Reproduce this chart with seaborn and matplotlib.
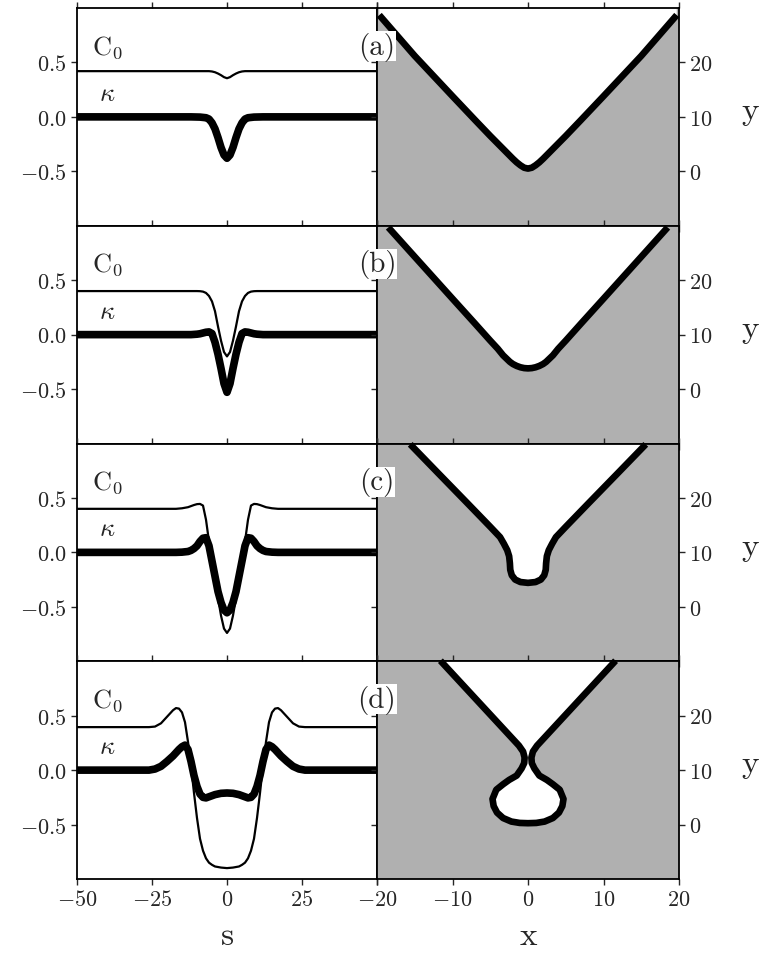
import numpy as np
import pandas as pd
import matplotlib
matplotlib.use("Agg")
import matplotlib.pyplot as plt
import seaborn as sns

sns.set_style("ticks")
plt.rcParams.update({
    "font.family": "serif",
    "font.serif": ["cmr10", "DejaVu Serif"],
    "mathtext.fontset": "cm",
    "axes.formatter.use_mathtext": True,
    "axes.unicode_minus": False,
})

# ---------------- data ----------------
panel_labels = ["(a)", "(b)", "(c)", "(d)"]

# left column: C0(s) and kappa(s)
s_a = [-50, -12, -9, -7, -6, -5, -4, -3, -2, -1, 0, 1, 2, 3, 4, 5, 6, 7, 9, 12, 50]
c0_a = [0.42, 0.42, 0.42, 0.42, 0.42, 0.417, 0.41, 0.398, 0.383, 0.365, 0.355,
        0.365, 0.383, 0.398, 0.41, 0.417, 0.42, 0.42, 0.42, 0.42, 0.42]
k_a = [0, 0, -0.002, -0.008, -0.02, -0.055, -0.11, -0.19, -0.28, -0.35, -0.38,
       -0.35, -0.28, -0.19, -0.11, -0.055, -0.02, -0.008, -0.002, 0, 0]

s_b = [-50, -12, -10, -9, -8, -7, -6, -5, -4, -3, -2, -1, 0,
       1, 2, 3, 4, 5, 6, 7, 8, 9, 10, 12, 50]
c0_b = [0.40, 0.40, 0.40, 0.399, 0.395, 0.383, 0.355, 0.305, 0.215, 0.075, -0.055, -0.16, -0.20,
        -0.16, -0.055, 0.075, 0.215, 0.305, 0.355, 0.383, 0.395, 0.399, 0.40, 0.40, 0.40]
k_b = [0, 0, 0.004, 0.008, 0.015, 0.022, 0.025, 0.01, -0.07, -0.18, -0.31, -0.45, -0.53,
       -0.45, -0.31, -0.18, -0.07, 0.01, 0.025, 0.022, 0.015, 0.008, 0.004, 0, 0]

s_c = [-50, -17, -15, -13, -12, -11, -10, -9, -8, -7, -6, -5, -4, -3, -2, -1, 0,
       1, 2, 3, 4, 5, 6, 7, 8, 9, 10, 11, 12, 13, 15, 17, 50]
c0_c = [0.40, 0.40, 0.405, 0.415, 0.425, 0.435, 0.443, 0.445, 0.43, 0.30, 0.10, -0.07, -0.25,
        -0.42, -0.58, -0.70, -0.74,
        -0.70, -0.58, -0.42, -0.25, -0.07, 0.10, 0.30, 0.43, 0.445, 0.443, 0.435, 0.425,
        0.415, 0.405, 0.40, 0.40]
k_c = [0, 0, 0.002, 0.008, 0.018, 0.035, 0.06, 0.10, 0.13, 0.135, 0.06, -0.08, -0.22,
       -0.36, -0.46, -0.53, -0.555,
       -0.53, -0.46, -0.36, -0.22, -0.08, 0.06, 0.135, 0.13, 0.10, 0.06, 0.035, 0.018,
       0.008, 0.002, 0, 0]

s_d = [-50, -26, -24, -22, -20, -18, -17, -16, -15, -14, -13, -12, -11, -10, -9, -8, -7,
       -6, -5, -4, -2, 0, 2, 4, 5, 6, 7, 8, 9, 10, 11, 12, 13, 14, 15, 16, 17, 18, 20,
       22, 24, 26, 50]
c0_d = [0.395, 0.395, 0.40, 0.43, 0.49, 0.55, 0.57, 0.565, 0.53, 0.44, 0.26, 0.04, -0.21,
        -0.44, -0.63, -0.74, -0.81, -0.85, -0.87, -0.885, -0.895, -0.90, -0.895, -0.885,
        -0.87, -0.85, -0.81, -0.74, -0.63, -0.44, -0.21, 0.04, 0.26, 0.44, 0.53, 0.565,
        0.57, 0.55, 0.49, 0.43, 0.40, 0.395, 0.395]
k_d = [0, 0, 0.01, 0.035, 0.08, 0.13, 0.16, 0.19, 0.215, 0.23, 0.19, 0.08, -0.05, -0.15,
       -0.22, -0.25, -0.255, -0.245, -0.235, -0.225, -0.213, -0.21, -0.213, -0.225,
       -0.235, -0.245, -0.255, -0.25, -0.22, -0.15, -0.05, 0.08, 0.19, 0.23, 0.215, 0.19,
       0.16, 0.13, 0.08, 0.035, 0.01, 0, 0]

# right column: interface shape y(x) (parametric points)
x_a = [-19.7, -15, -10, -7, -5, -4, -3, -2.5, -2, -1.5, -1, -0.5, 0,
       0.5, 1, 1.5, 2, 2.5, 3, 4, 5, 7, 10, 15, 19.7]
y_a = [28.7, 21.2, 13.8, 9.4, 6.5, 5.1, 3.7, 3.0, 2.3, 1.65, 1.1, 0.66, 0.5,
       0.66, 1.1, 1.65, 2.3, 3.0, 3.7, 5.1, 6.5, 9.4, 13.8, 21.2, 28.7]

x_b = [-18.5, -15, -10, -7, -5, -4, -3.3, -3, -2.4, -2, -1.5, -1, -0.5, 0,
       0.5, 1, 1.5, 2, 2.4, 3, 3.3, 4, 5, 7, 10, 15, 18.5]
y_b = [29.7, 24.3, 16.6, 12.0, 8.9, 7.4, 6.2, 5.8, 5.0, 4.6, 4.25, 4.0, 3.85, 3.8,
       3.85, 4.0, 4.25, 4.6, 5.0, 5.8, 6.2, 7.4, 8.9, 12.0, 16.6, 24.3, 29.7]

x_c = [-15.6, -12, -8, -5, -3.7, -3.2, -2.75, -2.5, -2.4, -2.35, -2.15, -1.7, -1.0, 0,
       1.0, 1.7, 2.15, 2.35, 2.4, 2.5, 2.75, 3.2, 3.7, 5, 8, 12, 15.6]
y_c = [29.85, 24.7, 19.0, 14.7, 12.8, 11.6, 10.4, 9.3, 8.0, 6.8, 5.8, 5.0, 4.55, 4.4,
       4.55, 5.0, 5.8, 6.8, 8.0, 9.3, 10.4, 11.6, 12.8, 14.7, 19.0, 24.7, 29.85]

x_d = [-11.6, -8, -5, -3, -2.0, -1.2, -0.65, -0.45, -0.5, -0.85, -1.5, -2.5, -3.3, -4.2,
       -4.7, -4.55, -4.1, -3.3, -2.2, -1.1, 0,
       1.1, 2.2, 3.3, 4.1, 4.55, 4.7, 4.2, 3.3, 2.5, 1.5, 0.85, 0.5, 0.45, 0.65, 1.2, 2.0,
       3, 5, 8, 11.6]
y_d = [30.1, 24.7, 20.2, 17.2, 15.7, 14.5, 13.4, 12.3, 11.3, 10.3, 9.0, 8.2, 7.4, 6.4,
       4.7, 3.4, 2.2, 1.2, 0.55, 0.3, 0.25,
       0.3, 0.55, 1.2, 2.2, 3.4, 4.7, 6.4, 7.4, 8.2, 9.0, 10.3, 11.3, 12.3, 13.4, 14.5, 15.7,
       17.2, 20.2, 24.7, 30.1]

s_ticks = [-50, -25, 0, 25, 50]
s_ticklabels = ["$-50$", "$-25$", "$0$", "$25$", ""]
v_ticks = [-0.5, 0.0, 0.5]
v_ticklabels = ["$-0.5$", "$0.0$", "$0.5$"]
x_ticks = [-20, -10, 0, 10, 20]
x_ticklabels = ["$-20$", "$-10$", "$0$", "$10$", "$20$"]
y_ticks = [0, 10, 20]
y_ticklabels = ["$0$", "$10$", "$20$"]

left_data = [(s_a, c0_a, k_a), (s_b, c0_b, k_b), (s_c, c0_c, k_c), (s_d, c0_d, k_d)]
right_data = [(x_a, y_a), (x_b, y_b), (x_c, y_c), (x_d, y_d)]

# ---------------- figure ----------------
W, H = 760, 962
fig = plt.figure(figsize=(W / 100, H / 100), dpi=100)
L = 77 / W
M = 377 / W
R = 679 / W
top = 1 - 9 / H
h = 217.75 / H
gray = "#b0b0b0"
tick_fs = 16

for i in range(4):
    b = top - (i + 1) * h
    axl = fig.add_axes([L, b, M - L, h])
    axr = fig.add_axes([M, b, R - M, h])

    s, c0, k = left_data[i]
    df = pd.DataFrame({"s": s, "c0": c0, "k": k})
    sns.lineplot(data=df, x="s", y="c0", ax=axl, color="black", lw=1.6,
                 sort=False, estimator=None, solid_joinstyle="round")
    sns.lineplot(data=df, x="s", y="k", ax=axl, color="black", lw=5.5,
                 sort=False, estimator=None, solid_joinstyle="round",
                 solid_capstyle="butt")
    axl.set_xlim(-50, 50)
    axl.set_ylim(-1, 1)
    axl.set_xticks(s_ticks)
    axl.set_yticks(v_ticks)
    axl.set_yticklabels(v_ticklabels, fontsize=tick_fs)
    if i == 3:
        axl.set_xticklabels(s_ticklabels, fontsize=tick_fs)
    else:
        axl.set_xticklabels([""] * len(s_ticks))
    axl.tick_params(axis="both", direction="out", length=4, width=1,
                    top=True, bottom=True, left=True, right=False)
    axl.set_xlabel("")
    axl.set_ylabel("")
    axl.text(-40, 0.65, r"$\mathrm{C}_0$", fontsize=19, ha="center", va="center")
    axl.text(-40, 0.22, r"$\kappa$", fontsize=19, ha="center", va="center")

    xr, yr = right_data[i]
    axr.set_facecolor(gray)
    axr.fill(list(xr) + [xr[-1], xr[0]], list(yr) + [32, 32], color="white",
             lw=0, zorder=1)
    dfr = pd.DataFrame({"x": xr, "y": yr})
    sns.lineplot(data=dfr, x="x", y="y", ax=axr, color="black", lw=4.8,
                 sort=False, estimator=None, solid_joinstyle="round",
                 solid_capstyle="butt", clip_on=False, zorder=3)
    axr.set_xlim(-20, 20)
    axr.set_ylim(-10, 30)
    axr.set_xticks(x_ticks)
    axr.set_yticks(y_ticks)
    axr.set_yticklabels(y_ticklabels, fontsize=tick_fs)
    if i == 3:
        axr.set_xticklabels(x_ticklabels, fontsize=tick_fs)
    else:
        axr.set_xticklabels([""] * len(x_ticks))
    axr.tick_params(axis="both", direction="out", length=4, width=1,
                    top=True, bottom=True, left=True, right=True,
                    labelleft=False, labelright=True)
    axr.set_xlabel("")
    axr.set_ylabel("")
    axr.text(-20, 23.0, panel_labels[i], fontsize=21, ha="center", va="center",
             zorder=5, clip_on=False,
             bbox=dict(facecolor="white", edgecolor="none", pad=0.5))
    axr.text(1.235, 0.49, "y", transform=axr.transAxes, fontsize=24,
             ha="center", va="baseline")

    for ax in (axl, axr):
        for sp in ax.spines.values():
            sp.set_linewidth(1.3)
            sp.set_color("black")
            sp.set_zorder(4)

fig.text(227 / W, 1 - 945 / H, "s", fontsize=24, ha="center", va="baseline")
fig.text(528 / W, 1 - 945 / H, "x", fontsize=24, ha="center", va="baseline")

fig.savefig("out.png", dpi=100)
